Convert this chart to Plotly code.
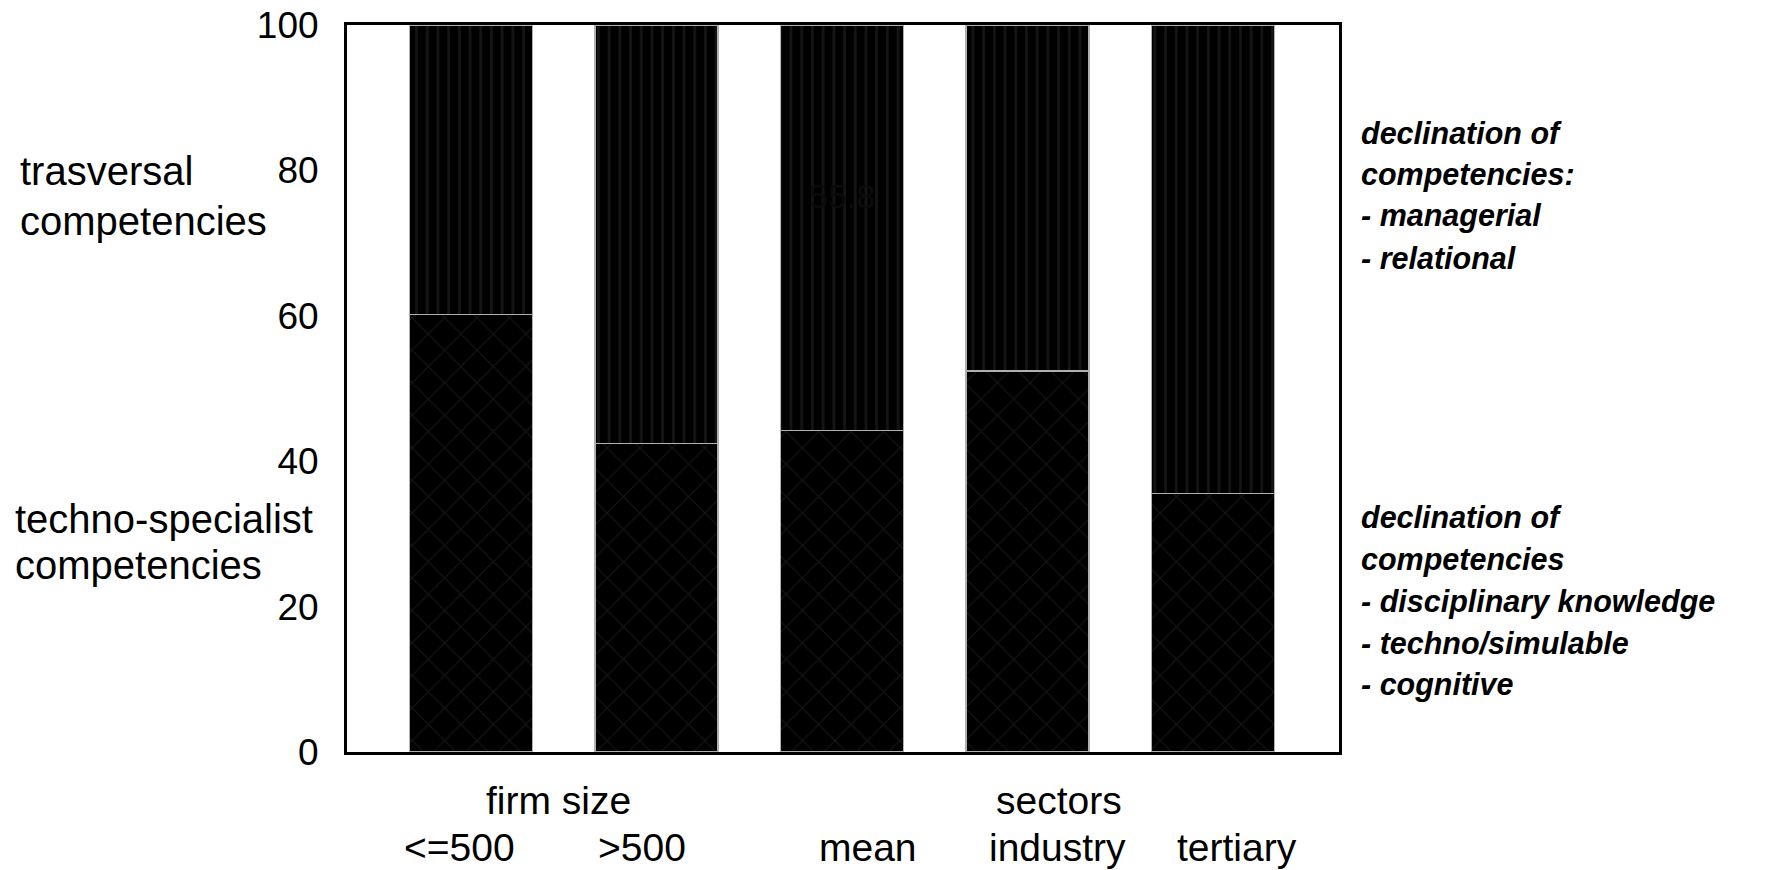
import plotly.graph_objects as go

# Share of competencies (%) by firm size and sector
categories = ["<=500", ">500", "mean", "industry", "tertiary"]
techno_specialist = [60.2, 42.4, 44.2, 52.4, 35.6]
transversal = [39.8, 57.6, 55.8, 47.6, 64.4]
y_ticks = [0, 20, 40, 60, 80, 100]

x_pos = list(range(len(categories)))
FONT = "Liberation Sans, Arial, sans-serif"

W, H = 1766, 870
PL, PR, PT, PB = 347, 1339, 25, 752   # plot area in pixels


def px_x(px):
    return (px - PL) / (PR - PL)


def px_y(py):
    return (PB - py) / (PB - PT)


fig = go.Figure()
fig.add_trace(go.Bar(
    x=x_pos, y=techno_specialist, width=0.663,
    marker=dict(color="black", line=dict(color="#b0b0b0", width=1.2),
                pattern=dict(shape="x", fgcolor="#2a2a2a", bgcolor="black",
                             size=23, solidity=0.1)),
    showlegend=False,
))
fig.add_trace(go.Bar(
    x=x_pos, y=transversal, width=0.663,
    marker=dict(color="black", line=dict(color="#b0b0b0", width=1.2),
                pattern=dict(shape="|", fgcolor="#2a2a2a", bgcolor="black",
                             size=10.7, solidity=0.25)),
    showlegend=False,
))

ann = []
# faint value label in the mean bar
ann.append(dict(x=2, y=76.5, xref="x", yref="y", text=f"{transversal[2]:.1f}",
                showarrow=False, font=dict(family=FONT, size=34, color="#0b0b0b")))

# category labels under the bars (slightly shifted, as typeset)
label_shift = [-0.06, -0.08, 0.14, 0.16, 0.13]
for i, c in enumerate(categories):
    ann.append(dict(x=i + label_shift[i], y=px_y(848), xref="x", yref="paper",
                    yanchor="middle", text=c, showarrow=False,
                    font=dict(family=FONT, size=39, color="black")))
# group labels
for gx, gt in [(0.47, "firm size"), (3.17, "sectors")]:
    ann.append(dict(x=gx, y=px_y(800), xref="x", yref="paper", yanchor="middle",
                    text=gt, showarrow=False,
                    font=dict(family=FONT, size=39, color="black")))


def left_label(text, x_px, y_px):
    return dict(x=px_x(x_px), y=px_y(y_px), xref="paper", yref="paper",
                xanchor="left", yanchor="middle", align="left", text=text,
                showarrow=False, font=dict(family=FONT, size=40, color="black"))


def right_label(text, y_px):
    return dict(x=px_x(1359), y=px_y(y_px), xref="paper", yref="paper",
                xanchor="left", yanchor="middle", align="left",
                text=f"<b><i>{text}</i></b>", showarrow=False,
                font=dict(family=FONT, size=30.5, color="black"))


ann += [
    left_label("trasversal", 18, 171), left_label("competencies", 18, 221),
    left_label("techno-specialist", 13, 519), left_label("competencies", 13, 565),
]
for t, yp in [("declination of", 133), ("competencies:", 175),
              ("- managerial", 216), ("- relational", 258),
              ("declination of", 517), ("competencies", 559),
              ("- disciplinary knowledge", 601), ("- techno/simulable", 643),
              ("- cognitive", 684)]:
    ann.append(right_label(t, yp))

fig.update_layout(
    barmode="stack",
    width=W, height=H,
    margin=dict(l=PL, r=W - PR, t=PT, b=H - PB, autoexpand=False),
    paper_bgcolor="white", plot_bgcolor="white",
    annotations=ann,
    xaxis=dict(range=[-0.668, 4.679], showticklabels=False, showgrid=False,
               zeroline=False, showline=True, linecolor="black", linewidth=3,
               mirror=True, ticks="", automargin=False),
    yaxis=dict(range=[0, 100], tickvals=y_ticks, showgrid=False, zeroline=False,
               showline=True, linecolor="black", linewidth=3, mirror=True,
               ticks="", ticklabelstandoff=18, automargin=False,
               tickfont=dict(family=FONT, size=37, color="black")),
)

fig.write_html("out.html")
